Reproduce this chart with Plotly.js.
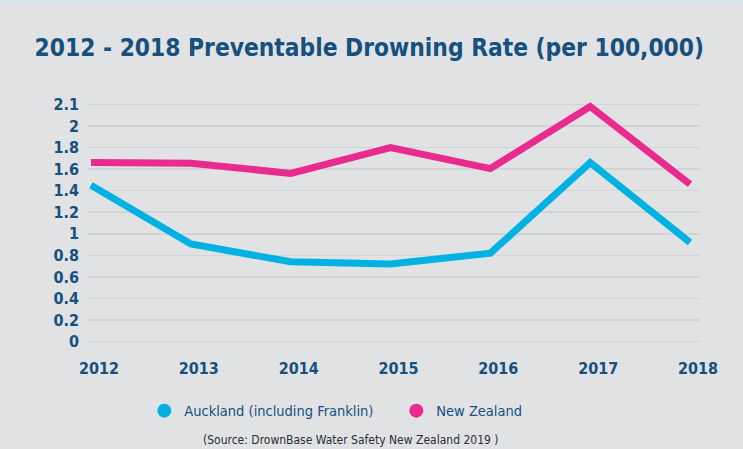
<!DOCTYPE html>
<html>
<head>
<meta charset="utf-8">
<script src="https://cdn.plot.ly/plotly-3.0.1.min.js"></script>
<style>
html,body{margin:0;padding:0;background:#ffffff;}
#chart{width:743px;height:449px;}
</style>
</head>
<body>
<div id="chart"></div>
<script>
var years = [2012, 2013, 2014, 2015, 2016, 2017, 2018];
var aucklandRate = [1.45, 0.905, 0.74, 0.72, 0.82, 1.66, 0.92];
var nzRate = [1.66, 1.655, 1.56, 1.80, 1.605, 2.18, 1.46];
var tickValues = [0, 0.2, 0.4, 0.6, 0.8, 1.0, 1.2, 1.4, 1.6, 1.8, 2.0, 2.2];
var tickLabels = ['0', '0.2', '0.4', '0.6', '0.8', '1', '1.2', '1.4', '1.6', '1.8', '2', '2.1'];
var seriesNames = ['Auckland (including Franklin)', 'New Zealand'];
var titleText = '2012 - 2018 Preventable Drowning Rate (per 100,000)';
var sourceText = '(Source: DrownBase Water Safety New Zealand 2019 )';

var cyan = '#00b2e2';
var pink = '#e92a8f';
var navy = '#15507e';
var condensed = '"DejaVu Sans Condensed", "Liberation Sans Narrow", "Open Sans", sans-serif';

var traces = [
  {x: years, y: aucklandRate, type: 'scatter', mode: 'lines', showlegend: false,
   line: {color: cyan, width: 7, shape: 'linear'}, cliponaxis: false, hoverinfo: 'skip'},
  {x: years, y: nzRate, type: 'scatter', mode: 'lines', showlegend: false,
   line: {color: pink, width: 7, shape: 'linear'}, cliponaxis: false, hoverinfo: 'skip'},
  {x: [null], y: [null], type: 'scatter', mode: 'markers', name: seriesNames[0],
   marker: {color: cyan, size: 14, symbol: 'circle'}},
  {x: [null], y: [null], type: 'scatter', mode: 'markers', name: seriesNames[1],
   marker: {color: pink, size: 14, symbol: 'circle'}}
];

var layout = {
  width: 743, height: 449,
  paper_bgcolor: '#e1e2e4',
  plot_bgcolor: '#e1e2e4',
  margin: {l: 88, r: 43, t: 98.6, b: 101.9, pad: 0},
  title: {text: '<b>' + titleText + '</b>', x: 0.497, xanchor: 'center', y: 0.895, yanchor: 'middle',
          font: {family: condensed, size: 24.3, color: navy}},
  xaxis: {type: 'linear', range: [2011.97, 2018.1], tickvals: years, ticktext: years.map(String),
          showgrid: false, zeroline: false, showline: false, ticks: '',
          ticklabelstandoff: 10, ticklabelshift: 8,
          tickfont: {family: condensed, size: 16, color: navy, weight: 'bold'}},
  yaxis: {range: [-0.05, 2.25], tickvals: tickValues, ticktext: tickLabels,
          showgrid: true, gridcolor: '#d2d4d7', gridwidth: 1.5, zeroline: false, showline: false,
          ticks: '', ticklabelstandoff: 8,
          tickfont: {family: condensed, size: 16, color: navy, weight: 'bold'}},
  legend: {orientation: 'h', x: 0.092, xanchor: 'left', y: -0.257, yanchor: 'middle',
           entrywidth: 207, entrywidthmode: 'pixels',
           bgcolor: 'rgba(0,0,0,0)', itemclick: false,
           font: {family: condensed, size: 14.5, color: navy}},
  annotations: [
    {text: sourceText, xref: 'paper', yref: 'paper', x: 0.429, y: -0.374, xanchor: 'center', yanchor: 'middle',
     showarrow: false, font: {family: condensed, size: 12, color: '#2a2e35'}}
  ],
  shapes: [
    {type: 'rect', xref: 'paper', yref: 'paper', x0: -0.2, x1: 1.2, y0: 1.39, y1: 1.41,
     fillcolor: '#d4e8f4', line: {width: 0}, layer: 'below'}
  ]
};

Plotly.newPlot('chart', traces, layout, {displayModeBar: false, staticPlot: true});
</script>
</body>
</html>
